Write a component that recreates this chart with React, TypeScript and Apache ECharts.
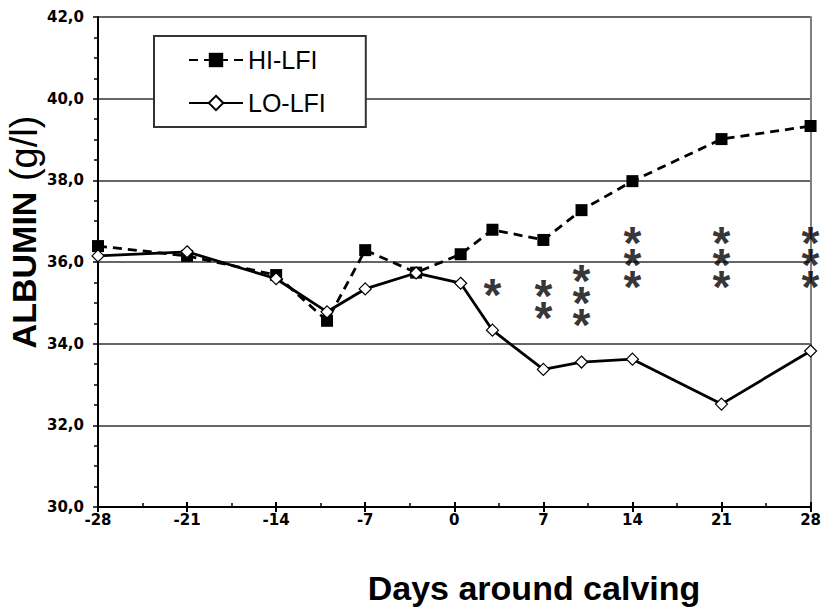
import React, { useEffect, useRef } from "react";
import * as echarts from "echarts";

const days = [-28, -21, -14, -10, -7, -3, 0.5, 3, 7, 10, 14, 21, 28];
const hiLfi = [36.39, 36.15, 35.68, 34.56, 36.29, 35.74, 36.19, 36.79, 36.54, 37.27, 37.98, 39.01, 39.33];
const loLfi = [36.15, 36.25, 35.59, 34.78, 35.34, 35.73, 35.48, 34.33, 33.37, 33.55, 33.62, 32.52, 33.82];
// significance asterisks: day, number of stars, centre of the stack (g/l)
const starDays = [3, 7, 10, 14, 21, 28];
const starCounts = [1, 2, 3, 3, 3, 3];
const starCentres = [35.44, 35.14, 35.23, 36.16, 36.18, 36.18];
const xTicks = [-28, -21, -14, -7, 0, 7, 14, 21, 28];
const yTicks = [30, 32, 34, 36, 38, 40, 42];

const ARIAL = "'Liberation Sans', Arial, sans-serif";
const TICKFONT = "'DejaVu Sans', 'Liberation Sans', sans-serif";

export default function App() {
  const ref = useRef<HTMLDivElement>(null);
  useEffect(() => {
    if (!ref.current) return;
    const chart = echarts.init(ref.current, undefined, { renderer: "svg" });
    const xMin = xTicks[0];
    const xMax = xTicks[xTicks.length - 1];
    const yMin = yTicks[0];
    const yMax = yTicks[yTicks.length - 1];
    chart.setOption({
      animation: false,
      backgroundColor: "#fff",
      grid: { left: 98, right: 9, top: 17, bottom: 102, containLabel: false },
      legend: {
        orient: "vertical",
        left: 154,
        top: 36,
        padding: [11, 40, 11, 34],
        itemGap: 17,
        itemWidth: 54,
        itemHeight: 18,
        backgroundColor: "#fff",
        borderColor: "#333",
        borderWidth: 2,
        data: ["HI-LFI", "LO-LFI"],
        textStyle: { fontFamily: ARIAL, fontSize: 25, color: "#000", lineHeight: 26 },
      },
      xAxis: [
        {
          type: "value",
          min: xMin,
          max: xMax,
          interval: 7,
          position: "bottom",
          axisLine: { show: true, onZero: false, lineStyle: { color: "#000", width: 2 } },
          axisTick: { show: true, inside: false, length: 5, lineStyle: { color: "#000", width: 2 } },
          axisLabel: {
            fontFamily: TICKFONT,
            fontWeight: "bold",
            fontSize: 15,
            color: "#000",
            margin: 5,
          },
          splitLine: { show: false },
        },
        {
          type: "value",
          min: xMin,
          max: xMax,
          interval: 7,
          position: "bottom",
          axisLine: { show: false, onZero: false },
          axisTick: { show: true, inside: true, length: 5, lineStyle: { color: "#000", width: 2 } },
          minorTick: { show: true, splitNumber: 2, length: 4, lineStyle: { color: "#000", width: 1.5 } },
          axisLabel: { show: false },
          splitLine: { show: false },
        },
      ],
      yAxis: [
        {
          type: "value",
          min: yMin,
          max: yMax,
          interval: 2,
          axisLine: { show: true, onZero: false, lineStyle: { color: "#000", width: 2 } },
          axisTick: { show: true, inside: false, length: 5, lineStyle: { color: "#000", width: 1.5 } },
          axisLabel: {
            fontFamily: TICKFONT,
            fontWeight: "bold",
            fontSize: 15,
            color: "#000",
            margin: 14,
            formatter: (v: number) => v.toFixed(1).replace(".", ","),
          },
          splitLine: { show: true, lineStyle: { color: "#333", width: 1.5 } },
        },
        {
          type: "value",
          min: yMin,
          max: yMax,
          interval: 2,
          position: "left",
          axisLine: { show: false, onZero: false },
          axisTick: { show: false },
          minorTick: { show: true, splitNumber: 4, length: 4, lineStyle: { color: "#000", width: 1.5 } },
          axisLabel: { show: false },
          splitLine: { show: false },
        },
        {
          type: "value",
          min: yMin,
          max: yMax,
          interval: 2,
          position: "right",
          axisLine: { show: true, onZero: false, lineStyle: { color: "#808080", width: 2 } },
          axisTick: { show: false },
          axisLabel: { show: false },
          splitLine: { show: false },
        },
      ],
      series: [
        {
          name: "HI-LFI",
          type: "line",
          data: days.map((d, i) => [d, hiLfi[i]]),
          symbol: "rect",
          symbolSize: 12,
          itemStyle: { color: "#000", borderColor: "#000", borderWidth: 0 },
          lineStyle: { color: "#000", width: 2.8, type: [9, 6] },
          z: 3,
        },
        {
          name: "LO-LFI",
          type: "line",
          data: days.map((d, i) => [d, loLfi[i]]),
          symbol: "diamond",
          symbolSize: 12,
          itemStyle: { color: "#fff", borderColor: "#000", borderWidth: 1.2 },
          lineStyle: { color: "#000", width: 2.8, type: "solid" },
          z: 4,
        },
        {
          name: "sig",
          type: "scatter",
          data: starDays.map((d, i) => [d, starCentres[i], starCounts[i]]),
          symbol: "circle",
          symbolSize: 1,
          itemStyle: { color: "rgba(0,0,0,0)" },
          label: {
            show: true,
            position: "inside",
            formatter: (p: any) => Array(p.value[2]).fill("*").join("\n"),
            fontFamily: ARIAL,
            fontWeight: "bold",
            fontSize: 46,
            lineHeight: 22,
            color: "#000",
            offset: [0, 10],
          },
          silent: true,
          z: 5,
        },
      ],
      graphic: [
        {
          type: "text",
          x: 24,
          y: 232,
          rotation: Math.PI / 2,
          style: {
            text: "{b|ALBUMIN}{n| (g/l)}",
            align: "center",
            verticalAlign: "middle",
            rich: {
              b: { fontFamily: ARIAL, fontWeight: "bold", fontSize: 34, fill: "#000" },
              n: { fontFamily: ARIAL, fontWeight: "normal", fontSize: 38, fill: "#000" },
            },
          },
        },
        {
          type: "text",
          x: 534,
          y: 588,
          style: {
            text: "Days around calving",
            align: "center",
            verticalAlign: "middle",
            fontFamily: ARIAL,
            fontWeight: "bold",
            fontSize: 34,
            fill: "#000",
          },
        },
      ],
    });
    return () => chart.dispose();
  }, []);
  return <div ref={ref} style={{ width: 824, height: 609, position: "absolute", left: 0, top: 0 }} />;
}
